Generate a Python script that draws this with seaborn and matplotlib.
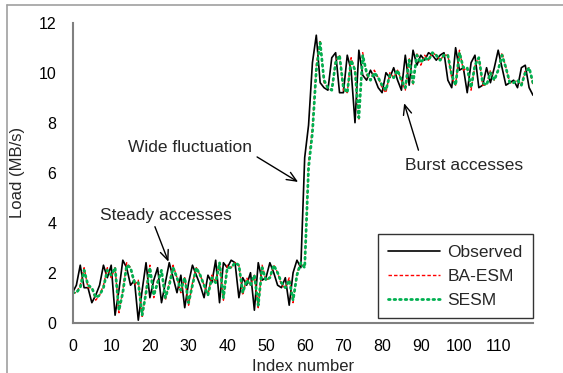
import pandas as pd
import matplotlib
matplotlib.use("Agg")
import matplotlib.pyplot as plt
from matplotlib.lines import Line2D
import seaborn as sns

# ------------------------------------------------------------
# Data
# ------------------------------------------------------------

observed = [
    1.2, 1.5, 2.3, 1.4, 1.4, 0.8, 1.1, 1.5, 2.3, 1.8,
    2.3, 0.3, 1.3, 2.5, 2.2, 1.5, 1.7, 0.1, 1.3, 2.4,
    1.0, 1.7, 2.2, 0.8, 1.6, 2.4, 1.8, 1.2, 1.9, 0.6,
    1.6, 2.3, 1.9, 1.5, 1.0, 1.9, 1.6, 2.5, 0.8, 2.4,
    2.2, 2.5, 2.4, 1.0, 1.8, 1.5, 2.0, 0.5, 2.4, 1.7,
    1.8, 2.4, 2.0, 1.5, 1.4, 1.8, 0.7, 2.0, 2.5, 2.2,
    6.6, 7.9, 10.4, 11.5, 9.6, 9.4, 9.3, 10.6, 10.8, 9.2,
    9.2, 10.7, 10.1, 8.0, 10.9, 9.9, 9.7, 10.1, 9.8, 9.4,
    9.2, 10.0, 9.8, 10.2, 9.7, 9.3, 10.7, 9.5, 10.9, 10.3,
    10.7, 10.5, 10.8, 10.7, 10.5, 10.7, 10.8, 9.7, 9.4, 11.0,
    10.1, 10.2, 9.2, 10.4, 10.7, 9.4, 9.5, 10.2, 9.6, 10.2,
    10.9, 10.2, 9.5, 9.6, 9.7, 9.4, 10.2, 10.3, 9.4, 9.1,
]

ba_esm = [
    1.2, 1.2, 1.5, 2.2, 1.4, 1.4, 0.9, 1.1, 1.5, 2.2,
    1.8, 2.2, 0.4, 1.3, 2.4, 2.2, 1.5, 1.7, 0.2, 1.3,
    2.3, 1.0, 1.7, 2.1, 0.9, 1.6, 2.3, 1.8, 1.2, 1.8,
    0.7, 1.6, 2.2, 1.9, 1.5, 1.1, 1.9, 1.6, 2.4, 0.9,
    2.3, 2.2, 2.4, 2.3, 1.1, 1.8, 1.5, 1.9, 0.6, 2.3,
    1.7, 1.8, 2.3, 2.0, 1.5, 1.4, 1.8, 0.8, 2.0, 2.4,
    2.2, 6.4, 7.8, 10.3, 11.3, 9.6, 9.4, 9.3, 10.5, 10.7,
    9.3, 9.2, 10.6, 10.1, 8.1, 10.8, 9.9, 9.7, 10.1, 9.8,
    9.4, 9.2, 10.0, 9.8, 10.1, 9.7, 9.3, 10.6, 9.5, 10.8,
    10.3, 10.7, 10.5, 10.8, 10.7, 10.5, 10.7, 10.7, 9.8, 9.5,
    10.9, 10.1, 10.2, 9.3, 10.3, 10.6, 9.5, 9.5, 10.1, 9.7,
    10.1, 10.8, 10.2, 9.6, 9.6, 9.7, 9.5, 10.1, 10.2, 9.5,
]

sesm = [
    1.2, 1.2, 1.4, 2.1, 1.5, 1.4, 1.0, 1.1, 1.4, 2.1,
    1.9, 2.2, 0.5, 1.2, 2.3, 2.2, 1.6, 1.6, 0.3, 1.2,
    2.2, 1.1, 1.6, 2.1, 1.0, 1.5, 2.2, 1.8, 1.3, 1.8,
    0.8, 1.5, 2.2, 1.9, 1.5, 1.1, 1.8, 1.6, 2.4, 1.0,
    2.2, 2.2, 2.4, 2.3, 1.2, 1.7, 1.5, 1.9, 0.7, 2.2,
    1.7, 1.8, 2.3, 2.0, 1.6, 1.4, 1.7, 0.9, 1.9, 2.4,
    2.2, 6.2, 7.6, 10.1, 11.2, 9.7, 9.4, 9.3, 10.4, 10.7,
    9.4, 9.2, 10.5, 10.1, 8.2, 10.7, 10.0, 9.7, 10.0, 9.8,
    9.5, 9.3, 9.9, 9.8, 10.1, 9.7, 9.4, 10.5, 9.6, 10.7,
    10.4, 10.6, 10.5, 10.8, 10.7, 10.5, 10.7, 10.7, 9.9, 9.5,
    10.8, 10.2, 10.2, 9.4, 10.3, 10.6, 9.6, 9.5, 10.0, 9.7,
    10.1, 10.7, 10.2, 9.6, 9.6, 9.7, 9.5, 10.0, 10.2, 9.6,
]

index_number = list(range(len(observed)))

x_ticks = [0, 10, 20, 30, 40, 50, 60, 70, 80, 90, 100, 110]
y_ticks = [0, 2, 4, 6, 8, 10, 12]

df = pd.DataFrame({
    "Index": index_number,
    "Observed": observed,
    "BA-ESM": ba_esm,
    "SESM": sesm,
})

# ------------------------------------------------------------
# Style and figure
# ------------------------------------------------------------

sns.set_style("white")
plt.rcParams["font.family"] = ["Liberation Sans", "DejaVu Sans"]

W, H = 563, 373
fig = plt.figure(figsize=(W / 100, H / 100), dpi=100)

# plot area in pixels: x 0 -> 72.5 px, 119 -> 533 px ; y 0 -> 322.7 px, 12 -> 22.7 px
ax = fig.add_axes([72.5 / W, (H - 322.7) / H, 460.5 / W, 300 / H])

sns.lineplot(data=df, x="Index", y="Observed", ax=ax, color="black",
             linewidth=1.2, label="Observed")
sns.lineplot(data=df, x="Index", y="BA-ESM", ax=ax, color="#FF0000",
             linewidth=1.0, linestyle=(0, (2.5, 1.5)), label="BA-ESM")
sns.lineplot(data=df, x="Index", y="SESM", ax=ax, color="#00B050",
             linewidth=2.0, linestyle=(0, (0.6, 1.4)),
             dash_capstyle="round", label="SESM")

ax.set_xlim(0, 119)
ax.set_ylim(0, 12)
ax.set_xticks(x_ticks)
ax.set_yticks(y_ticks)
ax.tick_params(axis="both", labelsize=11.5, colors="#808080",
               labelcolor="black", direction="out", length=3.6, width=1.0,
               pad=8)

for side in ["top", "right"]:
    ax.spines[side].set_visible(False)
for side in ["left", "bottom"]:
    ax.spines[side].set_color("#808080")
    ax.spines[side].set_linewidth(1.5)

ax.set_xlabel("Index number", fontsize=12)
ax.set_ylabel("Load (MB/s)", fontsize=12)
ax.xaxis.set_label_coords(0.5, -0.122)
ax.yaxis.set_label_coords(-47 / 460.5, 0.5)

# ------------------------------------------------------------
# Annotations
# ------------------------------------------------------------

arrow_style = dict(arrowstyle="->,head_length=0.7,head_width=0.3",
                   color="black", lw=1.0, shrinkA=0, shrinkB=0)

ax.text(7.1, 4.3, "Steady accesses", fontsize=12.5, va="center")
ax.annotate("", xy=(24.8, 2.44), xytext=(21.3, 3.84), arrowprops=arrow_style)

ax.text(14.3, 7.0, "Wide fluctuation", fontsize=12.5, va="center")
ax.annotate("", xy=(58.3, 5.63), xytext=(47.7, 6.63), arrowprops=arrow_style)

ax.text(86.0, 6.3, "Burst accesses", fontsize=12.5, va="center")
ax.annotate("", xy=(85.7, 8.78), xytext=(89.4, 6.9), arrowprops=arrow_style)

# ------------------------------------------------------------
# Legend
# ------------------------------------------------------------

legend = ax.legend(loc="lower right", bbox_to_anchor=(533 / W, (H - 318) / H),
                   bbox_transform=fig.transFigure, fontsize=12.5,
                   frameon=True, fancybox=False, edgecolor="black",
                   handlelength=3.0, handletextpad=0.4, borderpad=0.6,
                   labelspacing=0.5, borderaxespad=0)
legend.get_frame().set_linewidth(1.0)

# Outer chart border (cropped at the right and bottom)
fig.add_artist(Line2D([7.3 / W, 1.0], [1 - 5 / H, 1 - 5 / H],
                      color="#A0A0A0", lw=1.2))
fig.add_artist(Line2D([7.3 / W, 7.3 / W], [0.0, 1 - 5 / H],
                      color="#A0A0A0", lw=1.2))

fig.savefig("out.png", dpi=100)
